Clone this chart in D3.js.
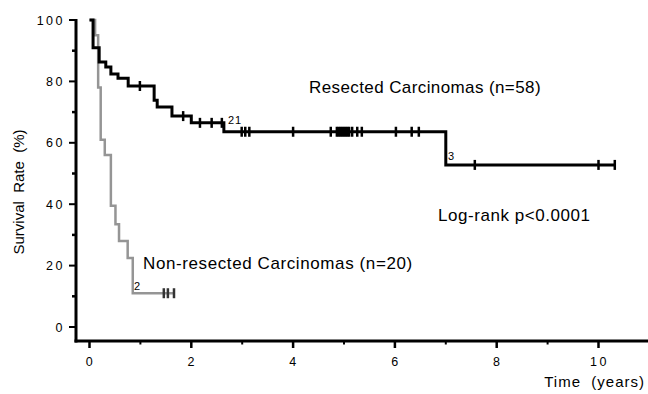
<!DOCTYPE html>
<html>
<head>
<meta charset="utf-8">
<script src="https://cdn.jsdelivr.net/npm/d3@7"></script>
<style>
  body { margin: 0; background: #fff; }
  svg { font-family: "Liberation Sans", Arial, sans-serif; }
</style>
</head>
<body>
<div id="chart"></div>
<script>
// resected carcinomas (n=58)
const resectedTimes = [0, 0.07, 0.19, 0.32, 0.42, 0.56, 0.76, 1.27, 1.33, 1.62, 2.0, 2.64, 7.0];
const resectedSurv = [100, 91, 86.3, 84.7, 82.4, 81, 78.5, 73.9, 71.7, 68.7, 66.5, 63.6, 52.8];
const resectedCensored = [0.99, 1.84, 2.17, 2.4, 2.6, 2.99, 3.06, 3.14, 4.0, 4.74,
  4.86, 4.9, 4.94, 4.98, 5.02, 5.06, 5.1, 5.16, 5.26, 5.35, 6.02, 6.33, 6.47, 7.57, 10.0, 10.32];
const resectedEnd = 10.32;

// non-resected carcinomas (n=20)
const nonResTimes = [0, 0.11, 0.17, 0.22, 0.3, 0.42, 0.51, 0.58, 0.75, 0.85];
const nonResSurv = [100, 95, 78, 61, 56, 39.5, 33.5, 28, 22.5, 11];
const nonResCensored = [1.46, 1.54, 1.66];
const nonResEnd = 1.66;

const xMajor = [0, 2, 4, 6, 8, 10];
const xMinor = [1, 3, 5, 7, 9];
const yMajor = [0, 20, 40, 60, 80, 100];
const yMinor = [10, 30, 50, 70, 90];

const width = 648, height = 394;
const svg = d3.select("#chart").append("svg")
  .attr("width", width).attr("height", height);

const x = d3.scaleLinear().domain([0, 10]).range([89.5, 598.5]);
const y = d3.scaleLinear().domain([0, 100]).range([327, 20]);
const axisX = 76, axisY = 341;

// axes
svg.append("line").attr("x1", axisX).attr("x2", axisX).attr("y1", 19).attr("y2", axisY + 1.5)
  .attr("stroke", "#000").attr("stroke-width", 3);
svg.append("line").attr("x1", axisX - 1.5).attr("x2", 648).attr("y1", axisY).attr("y2", axisY)
  .attr("stroke", "#000").attr("stroke-width", 3);

svg.selectAll(".ytick").data(yMajor).enter().append("line")
  .attr("x1", axisX - 7).attr("x2", axisX).attr("y1", d => y(d)).attr("y2", d => y(d))
  .attr("stroke", "#000").attr("stroke-width", 2);
svg.selectAll(".yminor").data(yMinor).enter().append("line")
  .attr("x1", axisX - 4).attr("x2", axisX).attr("y1", d => y(d)).attr("y2", d => y(d))
  .attr("stroke", "#000").attr("stroke-width", 2.5);
svg.selectAll(".ylab").data(yMajor).enter().append("text")
  .attr("x", 65).attr("y", d => y(d) + 4.5)
  .attr("text-anchor", "end").attr("font-size", 12.5).attr("letter-spacing", 2.5)
  .text(d => d);

svg.selectAll(".xtick").data(xMajor).enter().append("line")
  .attr("x1", d => x(d)).attr("x2", d => x(d)).attr("y1", axisY).attr("y2", axisY + 7)
  .attr("stroke", "#000").attr("stroke-width", 2.5);
svg.selectAll(".xminor").data(xMinor).enter().append("line")
  .attr("x1", d => x(d)).attr("x2", d => x(d)).attr("y1", axisY).attr("y2", axisY + 3.5)
  .attr("stroke", "#000").attr("stroke-width", 2);
svg.selectAll(".xlab").data(xMajor).enter().append("text")
  .attr("x", d => x(d) + 1).attr("y", 366)
  .attr("text-anchor", "middle").attr("font-size", 12.5).attr("letter-spacing", 2.5)
  .text(d => d);

svg.append("text").attr("x", 645).attr("y", 387).attr("text-anchor", "end")
  .attr("font-size", 15).attr("letter-spacing", 1)
  .attr("xml:space", "preserve").text("Time  (years)");

svg.append("text").attr("transform", "translate(24,192) rotate(-90)")
  .attr("text-anchor", "middle").attr("font-size", 15)
  .attr("xml:space", "preserve").text("Survival  Rate  (%)");

// survival curves
const line = d3.line().x(d => x(d[0])).y(d => y(d[1])).curve(d3.curveStepAfter);
function survAt(times, surv, t) {
  let s = surv[0];
  times.forEach((tt, i) => { if (tt <= t) s = surv[i]; });
  return s;
}
function drawCurve(times, surv, end, censored, color, w) {
  const pts = times.map((t, i) => [t, surv[i]]);
  pts.push([end, surv[surv.length - 1]]);
  svg.append("path").attr("d", line(pts)).attr("fill", "none")
    .attr("stroke", color).attr("stroke-width", w);
  svg.selectAll(null).data(censored).enter().append("line")
    .attr("x1", d => x(d)).attr("x2", d => x(d))
    .attr("y1", d => y(survAt(times, surv, d)) - 5)
    .attr("y2", d => y(survAt(times, surv, d)) + 5)
    .attr("stroke", color === "#000" ? "#000" : "#333").attr("stroke-width", 2.5);
}
drawCurve(nonResTimes, nonResSurv, nonResEnd, nonResCensored, "#959595", 2.5);
drawCurve(resectedTimes, resectedSurv, resectedEnd, resectedCensored, "#000", 3);

// labels
svg.append("text").attr("x", 309).attr("y", 93).attr("font-size", 17).attr("letter-spacing", 0.4)
  .text("Resected Carcinomas (n=58)");
svg.append("text").attr("x", 438).attr("y", 221).attr("font-size", 17).attr("letter-spacing", 0.55)
  .text("Log-rank p<0.0001");
svg.append("text").attr("x", 143).attr("y", 269).attr("font-size", 17).attr("letter-spacing", 0.6)
  .text("Non-resected Carcinomas (n=20)");

svg.append("text").attr("x", 228).attr("y", 124).attr("font-size", 11).attr("letter-spacing", 1)
  .text("21");
svg.append("text").attr("x", 448).attr("y", 160).attr("font-size", 11).text("3");
svg.append("text").attr("x", 134).attr("y", 290).attr("font-size", 11).text("2");
</script>
</body>
</html>
